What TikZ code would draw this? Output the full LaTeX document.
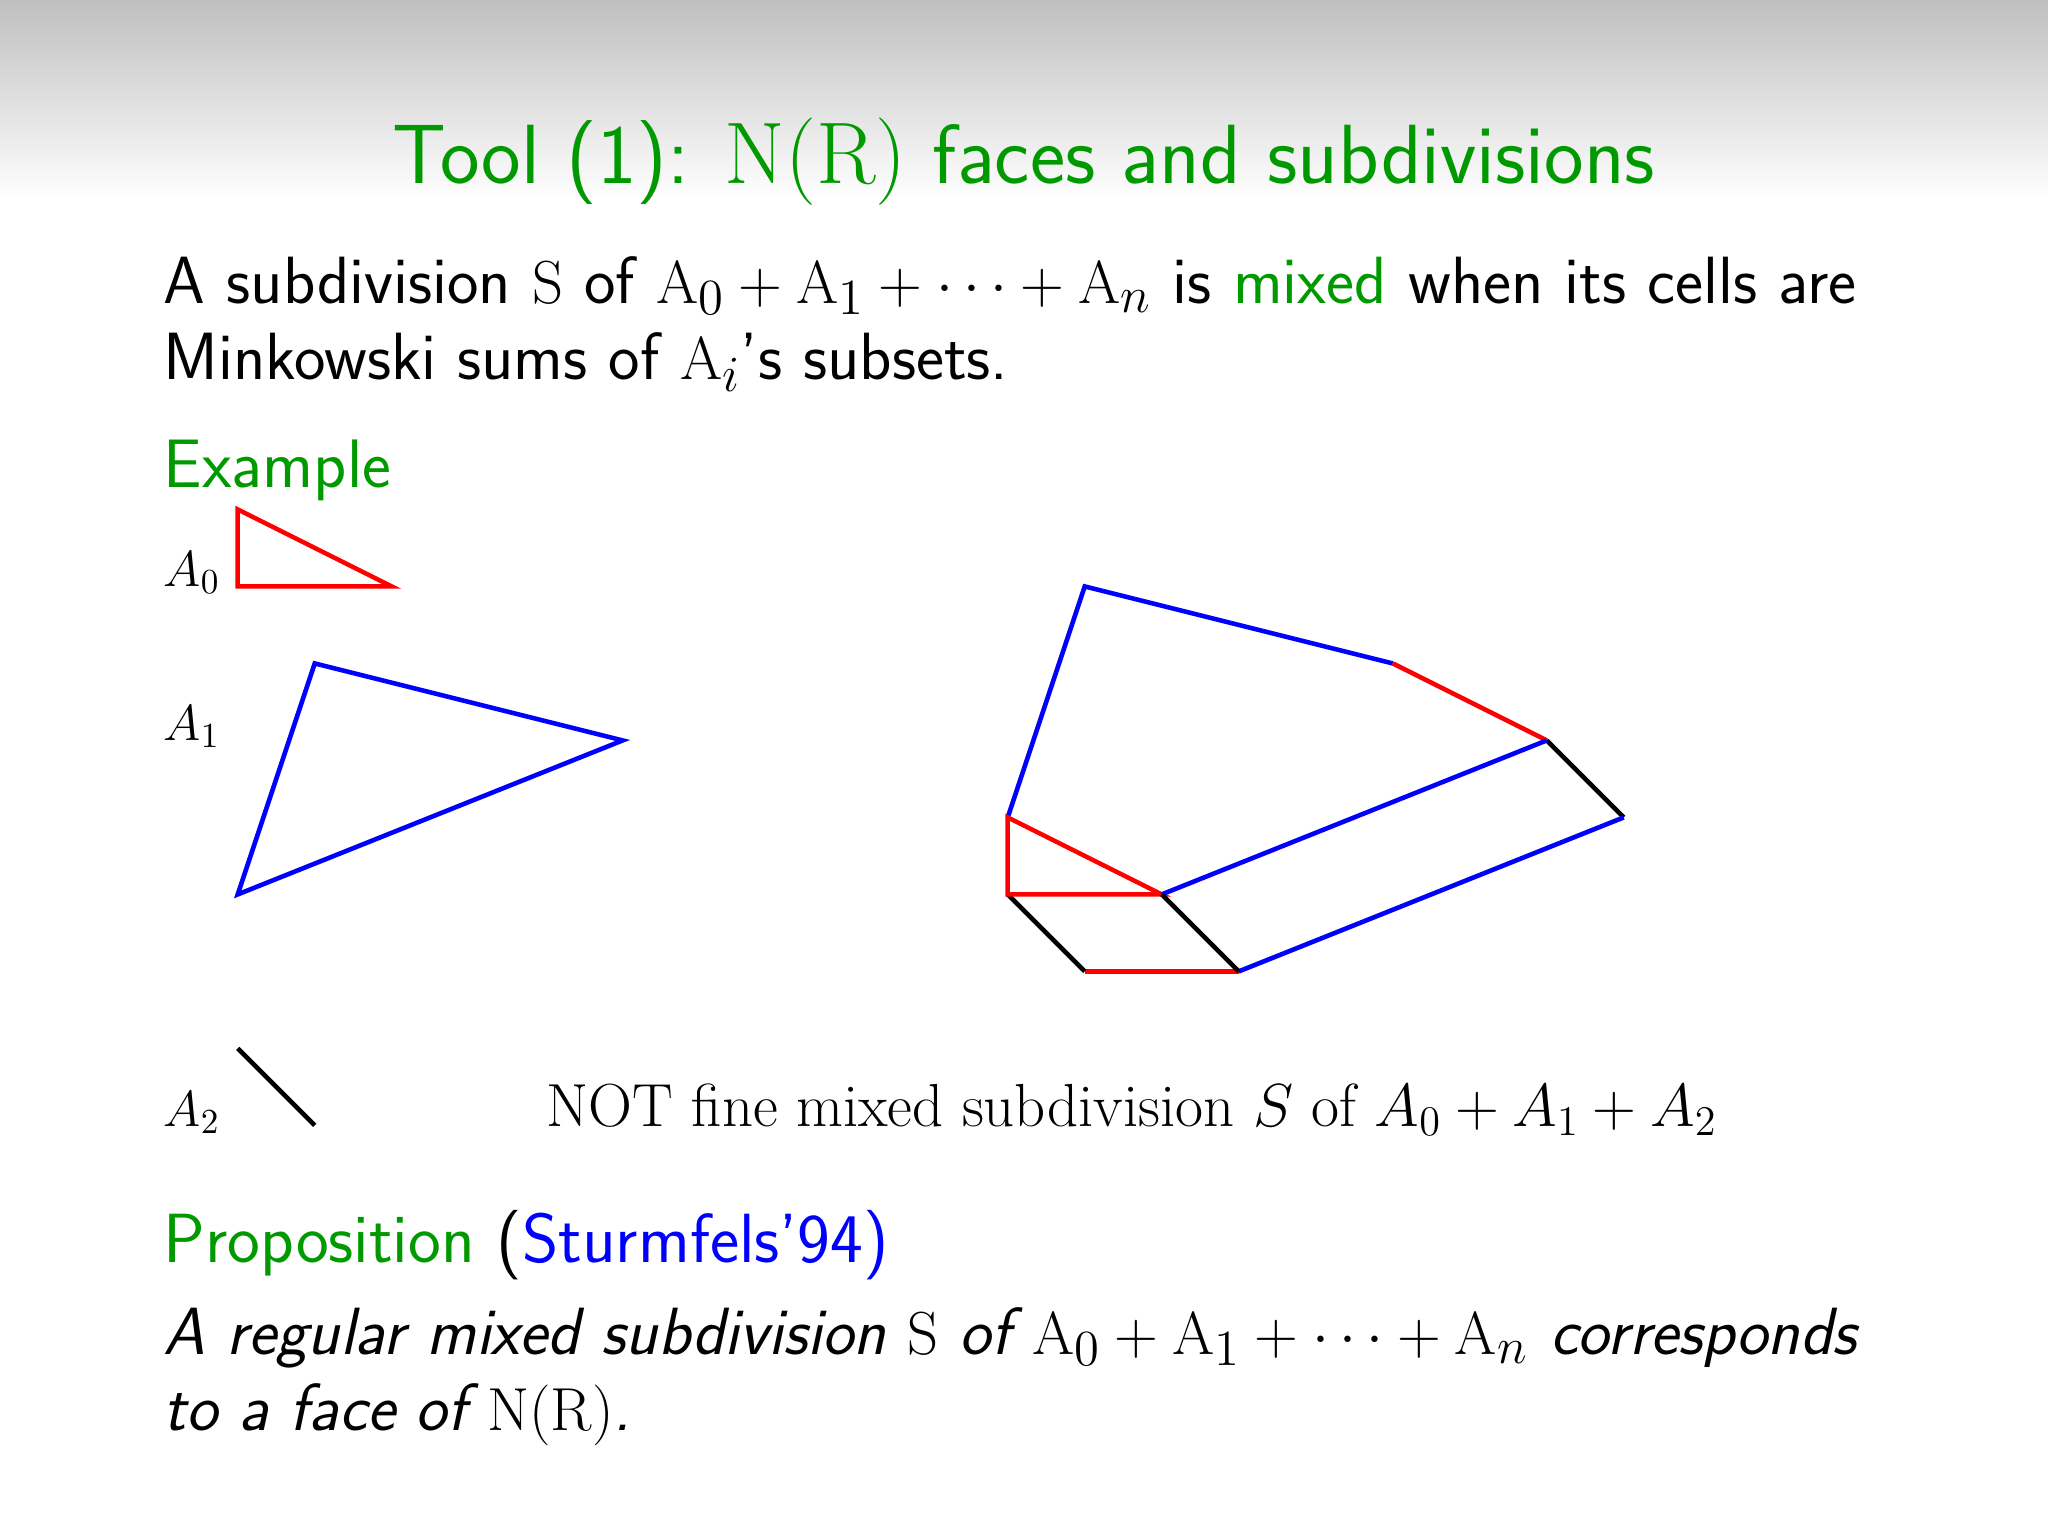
\documentclass[tikz,border=0pt]{standalone}
\definecolor{tgreen}{RGB}{0,153,0}
\definecolor{tred}{RGB}{255,0,0}
\definecolor{tblue}{RGB}{0,0,255}
\newcommand{\cA}[1]{A_{#1}}
\newcommand{\eA}[1]{\mathrm{A}_{#1}}
\begin{document}
\begin{tikzpicture}[x=0.01cm,y=-0.01cm,
  edge/.style={line width=1.3pt},
  txt/.style={anchor=base west,inner sep=0pt,font=\fontsize{19}{23}\selectfont\sffamily},
  lbl/.style={anchor=base west,inner sep=0pt,font=\fontsize{14}{17}\selectfont}]
\useasboundingbox (0,0) rectangle (2048,1536);
\shade[top color=black!25,bottom color=white] (0,0) rectangle (2048,200);
% title
\node[anchor=base,inner sep=0pt,text=tgreen,font=\fontsize{23.9}{29}\selectfont\sffamily] (title) at (1024,183) {Tool (1): $\mathrm{N}(\mathrm{R})$ faces and subdivisions};
% body
\node[txt] (l1) at (163,303) {\makebox[481.4pt][s]{A subdivision $\mathrm{S}$ of $\eA0+\eA1+\cdots+\eA{n}$ is \textcolor{tgreen}{mixed} when its cells are}};
\node[txt] (l2) at (163,379) {Minkowski sums of $\eA{i}$'s subsets.};
\node[txt,text=tgreen,font=\fontsize{19.5}{23}\selectfont\sffamily] (ex) at (163,487) {Example};
% grid coordinates: col c -> 237.7+77c, row r -> 509.4+77r
\foreach \c in {0,...,18}{\foreach \r in {0,...,8}{
  \coordinate (g-\c-\r) at ({237.7+77*\c},{509.4+77*\r});}}
% A0
\draw[edge,tred] (g-0-0) -- (g-0-1) -- (g-2-1) -- cycle;
\node[lbl] (la0) at (163,586) {$\cA{0}$};
% A1
\draw[edge,tblue] (g-1-2) -- (g-5-3) -- (g-0-5) -- cycle;
\node[lbl] (la1) at (163,740) {$\cA{1}$};
% A2
\draw[edge,black] (g-0-7) -- (g-1-8);
\node[lbl] (la2) at (163,1126) {$\cA{2}$};
% mixed subdivision
\draw[edge,tblue] (g-10-4) -- (g-11-1) -- (g-15-2);
\draw[edge,tred] (g-15-2) -- (g-17-3);
\draw[edge,black] (g-17-3) -- (g-18-4);
\draw[edge,tblue] (g-18-4) -- (g-13-6);
\draw[edge,tred] (g-13-6) -- (g-11-6);
\draw[edge,black] (g-11-6) -- (g-10-5);
\draw[edge,tred] (g-10-5) -- (g-10-4) -- (g-12-5) -- cycle;
\draw[edge,tblue] (g-12-5) -- (g-17-3);
\draw[edge,black] (g-12-5) -- (g-13-6);
\node[lbl,font=\fontsize{17.3}{20}\selectfont\rmfamily] (cap) at (546,1126) {NOT fine mixed subdivision $S$ of $\cA{0}+\cA{1}+\cA{2}$};
% proposition
\node[txt,font=\fontsize{19.8}{23}\selectfont\sffamily] (prop) at (163,1262) {\textcolor{tgreen}{Proposition} (\textcolor{tblue}{Sturmfels'94)}};
\node[txt,font=\fontsize{19}{23}\selectfont\sffamily\itshape] (p1) at (163,1354) {\makebox[481.4pt][s]{A regular mixed subdivision $\mathrm{S}$ of $\eA0+\eA1+\cdots+\eA{n}$ corresponds}};
\node[txt,font=\fontsize{19}{23}\selectfont\sffamily\itshape] (p2) at (163,1430) {to a face of $\mathrm{N}(\mathrm{R})$.};
\end{tikzpicture}
\end{document}
